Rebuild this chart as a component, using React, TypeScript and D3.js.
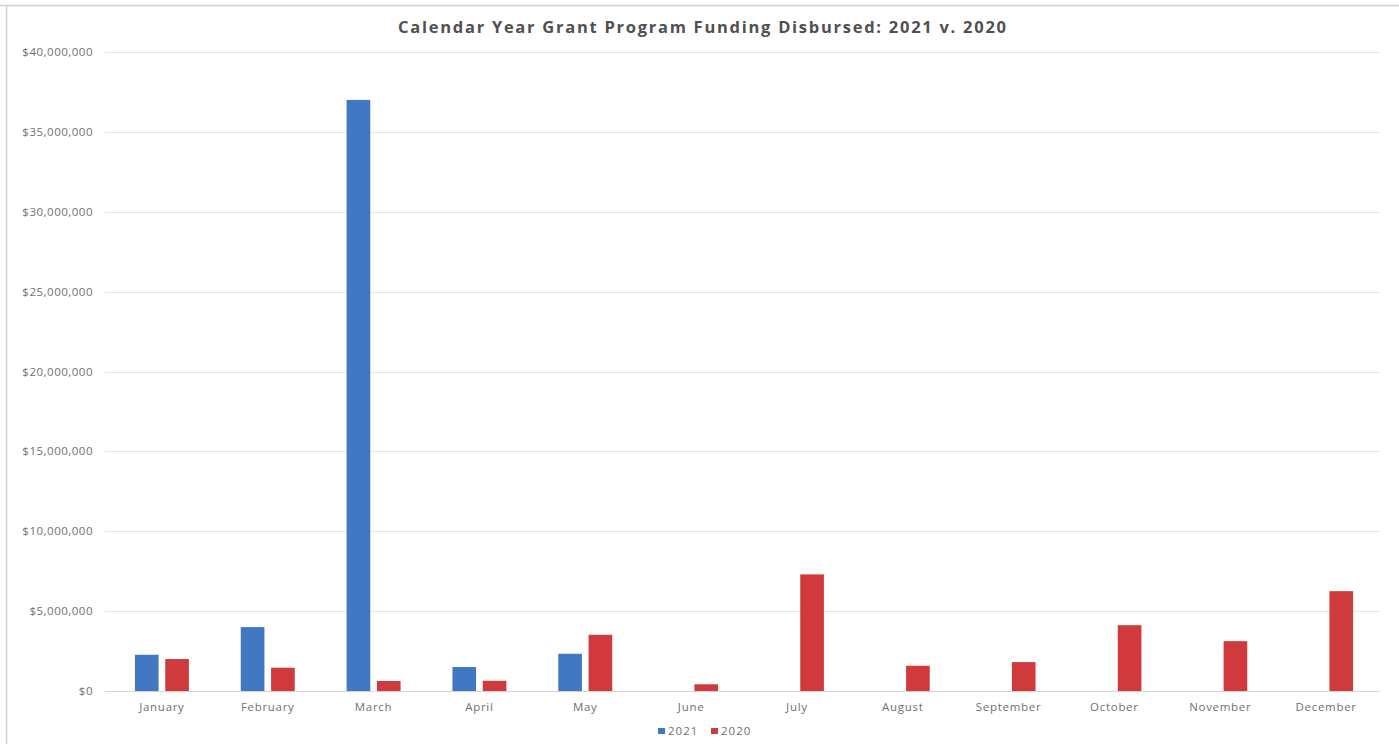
import React from "react";
import * as d3 from "d3";

const months = ["January","February","March","April","May","June","July","August","September","October","November","December"];
const series = ["2021", "2020"];
const values2021 = [2270000, 4000000, 37000000, 1500000, 2330000, 0, 0, 0, 0, 0, 0, 0];
const values2020 = [2000000, 1460000, 625000, 640000, 3520000, 420000, 7300000, 1580000, 1810000, 4120000, 3120000, 6250000];
const yTicks = [0, 5000000, 10000000, 15000000, 20000000, 25000000, 30000000, 35000000, 40000000];
const colors = ["#4277C4", "#D03A3C"];

const W = 1399, H = 744;
const left = 109, right = 1379, top = 52, bottom = 691;

export default function App() {
  const x = d3.scaleBand<string>().domain(months).range([left, right]).paddingInner(0.49).paddingOuter(0.245);
  const xs = d3.scaleBand<string>().domain(series).range([0, x.bandwidth()]).paddingInner(0.22);
  const y = d3.scaleLinear().domain([0, 40000000]).range([bottom, top]);
  const fmt = (v: number) => "$" + d3.format(",")(v);
  const data = [values2021, values2020];
  const font = "Open Sans, Noto Sans, sans-serif";
  return (
    <svg width={W} height={H} style={{ position: "absolute", left: 0, top: 0, background: "#fff" }} fontFamily={font}>
      <line x1={0} x2={W} y1={5.5} y2={5.5} stroke="#d0d0d0" strokeWidth={1.5} />
      <line x1={6.5} x2={6.5} y1={5} y2={H} stroke="#d0d0d0" strokeWidth={1.5} />
      <text x={702} y={33} textAnchor="middle" fontSize={16.5} fontWeight={700} fill="#505050" textLength={608} lengthAdjust="spacing">
        Calendar Year Grant Program Funding Disbursed: 2021 v. 2020
      </text>
      {yTicks.map((t) => (
        <g key={t}>
          <line x1={105} x2={1380} y1={Math.round(y(t)) + 0.5} y2={Math.round(y(t)) + 0.5} stroke={t === 0 ? "#d4d4d4" : "#e6e6e6"} strokeWidth={1} />
          <text x={93} y={y(t) + 4} textAnchor="end" fontSize={11.5} letterSpacing={0.5} fill="#707070">{fmt(t)}</text>
        </g>
      ))}
      {months.map((m, i) => (
        <g key={m} transform={`translate(${x(m)},0)`}>
          {series.map((s, k) => {
            const v = data[k][i];
            if (!v) return null;
            return (
              <rect key={s} x={xs(s)} width={xs.bandwidth()} y={y(v)} height={bottom - y(v)} fill={colors[k]} />
            );
          })}
          <text x={x.bandwidth() / 2} y={711} textAnchor="middle" fontSize={11.5} letterSpacing={0.7} fill="#707070">{m}</text>
        </g>
      ))}
      <g transform="translate(658,735)">
        {series.map((s, k) => (
          <g key={s} transform={`translate(${k * 53},0)`}>
            <rect x={0} y={-7} width={7} height={6} fill={colors[k]} />
            <text x={10} y={0} fontSize={11.5} letterSpacing={1} fill="#707070">{s}</text>
          </g>
        ))}
      </g>
    </svg>
  );
}
